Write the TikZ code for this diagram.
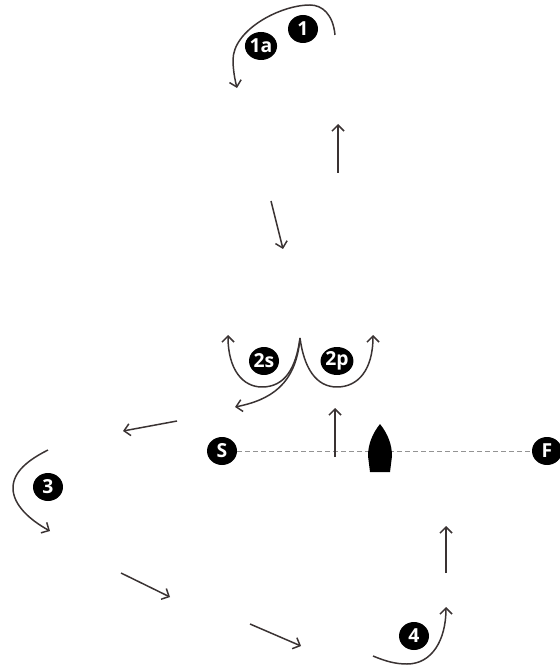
\documentclass[tikz,border=0pt]{standalone}
\usepackage{fontspec}
\setmainfont{Open Sans}
\usetikzlibrary{arrows.meta,shapes.geometric}
\definecolor{penline}{HTML}{3A3333}
\tikzset{
  badge/.style={ellipse,fill=black,text=white,inner sep=0pt,minimum width=6mm,minimum height=5.6mm,font=\bfseries\fontsize{11}{11}\selectfont},
  route/.style={draw=penline,line width=0.85pt,-{Straight Barb[length=1.2mm,width=2.4mm,line width=0.85pt]}},
  course/.style={draw=gray!85,line width=0.5pt,dash pattern=on 0.9mm off 0.7mm}
}
\begin{document}
\begin{tikzpicture}[x=0.02cm,y=-0.02cm]
  \useasboundingbox (0,0) rectangle (560,668);
  % start and finish
  \node[badge] (start) at (222,451) {S};
  \node[badge] (finish) at (547,451) {F};
  \draw[course] (start) -- (finish);
  \fill[black] (380,424) .. controls (388,434) and (392,445) .. (392,456) -- (390,472) -- (370,472)
    -- (368,456) .. controls (368,445) and (372,434) .. (380,424);
  % marks
  \foreach \name/\x/\y/\txt in {one/303/29/1, onea/261/46/1a, twos/264/361/2s, twop/337/361/2p, three/48/487/3, four/414/636/4}
    \node[badge] (\name) at (\x,\y) {\txt};
  % free ends
  \foreach \name/\x/\y in {a/338/173, b/338/124, c/271/201, d/283/249, e/335/457, f/335/408, g/177/421, h/123/431,
      i/121/573, j/170/597, k/250/624, l/301/646, m/446/573, n/446/526,
      p/335/35, q/237/88, r/300/338, s/228/335, t/373/335, u/235/407, v/48/450, w/50/531, y/373/656, z/446/607}
    \coordinate (\name) at (\x,\y);
  % straight legs
  \foreach \from/\to in {a/b, c/d, e/f, g/h, i/j, k/l, m/n}
    \draw[route] (\from) -- (\to);
  % turns
  \draw[route] (p) .. controls (333,14) and (322,5) .. (310,5) .. controls (280,5) and (233,30) .. (233,60) .. controls (233,70) and (235,80) .. (q);
  \draw[route] (r) .. controls (296,368) and (285,387) .. (262,387) .. controls (243,387) and (228,370) .. (s);
  \draw[route] (r) .. controls (304,368) and (316,387) .. (337,387) .. controls (358,387) and (373,370) .. (t);
  \draw[route] (r) .. controls (296,385) and (270,400) .. (u);
  \draw[route] (v) .. controls (28,460) and (13,472) .. (13,488) .. controls (13,505) and (30,520) .. (w);
  \draw[route] (y) .. controls (385,661) and (395,664) .. (407,664) .. controls (432,664) and (446,640) .. (z);
\end{tikzpicture}
\end{document}
